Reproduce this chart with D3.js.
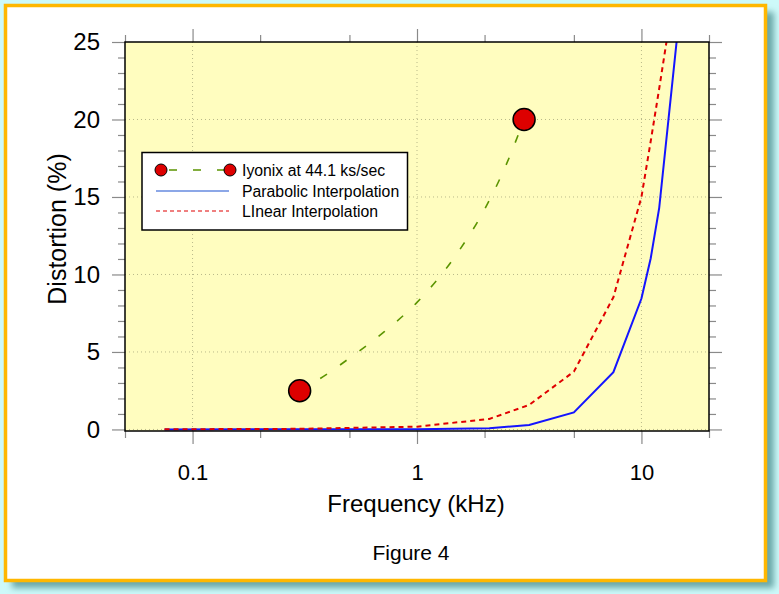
<!DOCTYPE html>
<html>
<head>
<meta charset="utf-8">
<script src="https://cdn.jsdelivr.net/npm/d3@7"></script>
<style>
  html, body { margin: 0; padding: 0; background: #cdf9f9; }
  svg { display: block; }
  text { font-family: "Liberation Sans", Arial, Helvetica, sans-serif; fill: #000; }
</style>
</head>
<body>
<svg id="chart" width="779" height="594"></svg>
<script>
// ---------- data ----------
const xTickLabels = ["0.1", "1", "10"];
const xMajorTicks = [0.1, 1, 10];
const xMinorTicks = [0.05, 0.2, 0.5, 2, 5, 20];
const yMajorTicks = [0, 5, 10, 15, 20, 25];
const yMinorTicks = [1, 2, 3, 4, 6, 7, 8, 9, 11, 12, 13, 14, 16, 17, 18, 19, 21, 22, 23, 24];

const seriesNames = ["Iyonix at 44.1 ks/sec", "Parabolic Interpolation", "LInear Interpolation"];

const iyonixFreq = [0.3, 3];
const iyonixDist = [2.5, 20];
const iyonixCurveFreq = [0.3, 0.4, 0.5, 0.7, 1.0, 1.5, 2.0, 2.5, 3.0];
const iyonixCurveDist = [2.5, 3.6, 4.6, 6.2, 8.2, 11.3, 14.2, 17.1, 20.0];

const parabolicFreq = [0.075, 1, 2.1, 3.16, 5, 7.5, 10, 11, 12, 15];
const parabolicDist = [0, 0.02, 0.08, 0.29, 1.1, 3.7, 8.45, 11.05, 14.3, 27.7];

const linearFreq = [0.075, 0.3, 1, 2.1, 3.16, 5, 7.5, 10, 11, 12, 15];
const linearDist = [0.01, 0.04, 0.18, 0.68, 1.58, 3.73, 8.53, 15.0, 18.6, 22.0, 31];

// ---------- layout ----------
const svg = d3.select("#chart");
const W = 779, H = 594;
const plot = { left: 125, right: 709, top: 42, bottom: 431 };

const x = d3.scaleLog().domain([0.05, 20]).range([plot.left, plot.right]);
const y = d3.scaleLinear().domain([-0.1, 25]).range([plot.bottom, plot.top]);

const defs = svg.append("defs");
const blur = defs.append("filter").attr("id", "shadow").attr("x", "-5%").attr("y", "-5%").attr("width", "110%").attr("height", "110%");
blur.append("feGaussianBlur").attr("stdDeviation", 3);
defs.append("clipPath").attr("id", "plotclip")
  .append("rect").attr("x", plot.left).attr("y", plot.top)
  .attr("width", plot.right - plot.left).attr("height", plot.bottom - plot.top);

// frame
svg.append("rect").attr("x", 0).attr("y", 0).attr("width", W).attr("height", H).attr("fill", "#cdf9f9");
svg.append("rect").attr("x", 12).attr("y", 12).attr("width", 762).attr("height", 576)
  .attr("fill", "#6aa8a8").attr("filter", "url(#shadow)");
svg.append("rect").attr("x", 5.5).attr("y", 5.5).attr("width", 760).attr("height", 575)
  .attr("fill", "#ffffff").attr("stroke", "#ffb700").attr("stroke-width", 3.5);

// plot background
svg.append("rect").attr("x", plot.left).attr("y", plot.top)
  .attr("width", plot.right - plot.left).attr("height", plot.bottom - plot.top)
  .attr("fill", "#fffdbf");

// grid
const gridColor = "#b9b98a";
const grid = svg.append("g");
grid.selectAll(".gx").data(xMajorTicks).enter().append("line")
  .attr("x1", d => x(d)).attr("x2", d => x(d))
  .attr("y1", plot.top).attr("y2", plot.bottom)
  .attr("stroke", gridColor).attr("stroke-width", 1).attr("stroke-dasharray", "1,3");
grid.selectAll(".gy").data(yMajorTicks.filter(d => d < 25)).enter().append("line")
  .attr("x1", plot.left).attr("x2", plot.right)
  .attr("y1", d => y(d)).attr("y2", d => y(d))
  .attr("stroke", gridColor).attr("stroke-width", 1).attr("stroke-dasharray", "1,3");

// axes (ticks)
function styleAxis(g) {
  g.select(".domain").remove();
  g.selectAll(".tick line").attr("stroke", "#8a8a8a").attr("stroke-width", 1.2);
}
svg.append("g").attr("transform", `translate(0,${plot.bottom})`)
  .call(d3.axisBottom(x).tickValues(xMajorTicks).tickSize(13).tickPadding(20)
        .tickFormat((d, i) => xTickLabels[i]))
  .call(styleAxis)
  .call(g => g.selectAll("text").attr("font-size", 22).attr("font-family", null));
svg.append("g").attr("transform", `translate(0,${plot.bottom})`)
  .call(d3.axisBottom(x).tickValues(xMinorTicks).tickSize(7).tickFormat(""))
  .call(styleAxis);
svg.append("g").attr("transform", `translate(0,${plot.top})`)
  .call(d3.axisTop(x).tickValues(xMajorTicks).tickSize(13).tickFormat(""))
  .call(styleAxis);
svg.append("g").attr("transform", `translate(0,${plot.top})`)
  .call(d3.axisTop(x).tickValues(xMinorTicks).tickSize(7).tickFormat(""))
  .call(styleAxis);

svg.append("g").attr("transform", `translate(${plot.left},0)`)
  .call(d3.axisLeft(y).tickValues(yMajorTicks).tickSize(13).tickPadding(12).tickFormat(d3.format("d")))
  .call(styleAxis)
  .call(g => g.selectAll("text").attr("font-size", 24).attr("font-family", null));
svg.append("g").attr("transform", `translate(${plot.left},0)`)
  .call(d3.axisLeft(y).tickValues(yMinorTicks).tickSize(7).tickFormat(""))
  .call(styleAxis);
svg.append("g").attr("transform", `translate(${plot.right},0)`)
  .call(d3.axisRight(y).tickValues(yMajorTicks).tickSize(13).tickFormat(""))
  .call(styleAxis);
svg.append("g").attr("transform", `translate(${plot.right},0)`)
  .call(d3.axisRight(y).tickValues(yMinorTicks).tickSize(7).tickFormat(""))
  .call(styleAxis);

// series
const lines = svg.append("g").attr("clip-path", "url(#plotclip)");
const lineGen = d3.line().x(d => x(d[0])).y(d => y(d[1]));

lines.append("path")
  .datum(parabolicFreq.map((f, i) => [f, parabolicDist[i]]))
  .attr("d", lineGen).attr("fill", "none")
  .attr("stroke", "#1414ff").attr("stroke-width", 2);

lines.append("path")
  .datum(linearFreq.map((f, i) => [f, linearDist[i]]))
  .attr("d", lineGen).attr("fill", "none")
  .attr("stroke", "#e00000").attr("stroke-width", 2).attr("stroke-dasharray", "5,4");

lines.append("path")
  .datum(iyonixCurveFreq.map((f, i) => [f, iyonixCurveDist[i]]))
  .attr("d", lineGen.curve(d3.curveMonotoneX)).attr("fill", "none")
  .attr("stroke", "#5b9400").attr("stroke-width", 1.6).attr("stroke-dasharray", "8,16");

svg.append("g").selectAll("circle")
  .data(iyonixFreq.map((f, i) => [f, iyonixDist[i]]))
  .enter().append("circle")
  .attr("cx", d => x(d[0])).attr("cy", d => y(d[1])).attr("r", 11)
  .attr("fill", "#dd0000").attr("stroke", "#000").attr("stroke-width", 1.5);

// plot border
svg.append("rect").attr("x", plot.left).attr("y", plot.top)
  .attr("width", plot.right - plot.left).attr("height", plot.bottom - plot.top)
  .attr("fill", "none").attr("stroke", "#000").attr("stroke-width", 1.5);

// legend
const lg = svg.append("g");
lg.append("rect").attr("x", 142).attr("y", 152.5).attr("width", 265.5).attr("height", 77.5)
  .attr("fill", "#fff").attr("stroke", "#000").attr("stroke-width", 1.5);
const rows = [170, 191, 211];
lg.append("line").attr("x1", 161).attr("x2", 230).attr("y1", rows[0]).attr("y2", rows[0])
  .attr("stroke", "#5b9400").attr("stroke-width", 1.6).attr("stroke-dasharray", "8,16")
  .attr("stroke-dashoffset", -8);
[161, 230].forEach(cx => lg.append("circle").attr("cx", cx).attr("cy", rows[0]).attr("r", 6)
  .attr("fill", "#dd0000").attr("stroke", "#000").attr("stroke-width", 1));
lg.append("line").attr("x1", 156).attr("x2", 229).attr("y1", rows[1]).attr("y2", rows[1])
  .attr("stroke", "#1a50d0").attr("stroke-width", 1.2);
lg.append("line").attr("x1", 156).attr("x2", 229).attr("y1", rows[2]).attr("y2", rows[2])
  .attr("stroke", "#e00000").attr("stroke-width", 1.2).attr("stroke-dasharray", "4,3");
seriesNames.forEach((name, i) => {
  lg.append("text").attr("x", 242).attr("y", rows[i]).attr("dy", "0.35em")
    .attr("font-size", 15.8).text(name);
});

// titles
svg.append("text").attr("x", 416).attr("y", 512).attr("text-anchor", "middle")
  .attr("font-size", 24).text("Frequency (kHz)");
svg.append("text").attr("transform", "translate(66,229) rotate(-90)").attr("text-anchor", "middle")
  .attr("font-size", 25).text("Distortion (%)");
svg.append("text").attr("x", 411).attr("y", 560).attr("text-anchor", "middle")
  .attr("font-size", 21).text("Figure 4");
</script>
</body>
</html>
